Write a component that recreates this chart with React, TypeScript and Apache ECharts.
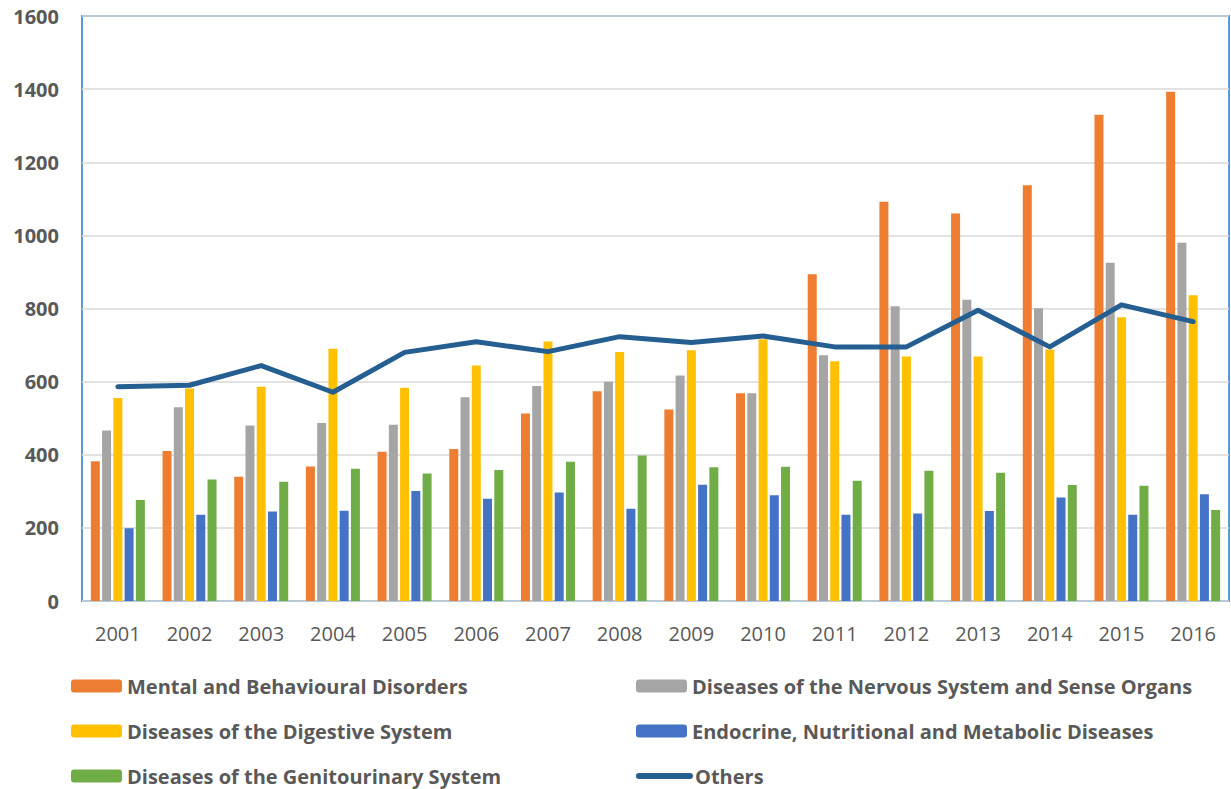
import React, { useEffect, useRef } from "react";
import * as echarts from "echarts";

const years = ["2001", "2002", "2003", "2004", "2005", "2006", "2007", "2008", "2009", "2010", "2011", "2012", "2013", "2014", "2015", "2016"];

const mental = [382, 410, 340, 368, 408, 416, 513, 574, 524, 568, 894, 1092, 1060, 1137, 1330, 1393];
const nervous = [466, 530, 480, 487, 482, 557, 588, 600, 617, 568, 672, 806, 824, 801, 925, 980];
const digestive = [555, 581, 586, 690, 583, 644, 710, 681, 686, 716, 656, 669, 669, 688, 776, 836];
const endocrine = [199, 236, 245, 247, 301, 280, 297, 252, 318, 289, 236, 239, 246, 283, 236, 292];
const genitourinary = [276, 332, 326, 362, 349, 358, 381, 398, 366, 367, 329, 356, 351, 317, 315, 249];
const others = [586, 590, 644, 571, 680, 709, 682, 723, 707, 725, 695, 695, 795, 695, 810, 764];

const NAMES = {
  mental: "Mental and Behavioural Disorders",
  nervous: "Diseases of the Nervous System and Sense Organs",
  digestive: "Diseases of the Digestive System",
  endocrine: "Endocrine, Nutritional and Metabolic Diseases",
  genito: "Diseases of the Genitourinary System",
  others: "Others",
};

const FONT = "'Open Sans', 'Liberation Sans', sans-serif";
const TEXT = "#595959";

export default function App() {
  const ref = useRef<HTMLDivElement>(null);

  useEffect(() => {
    if (!ref.current) return;
    const chart = echarts.init(ref.current, null, { renderer: "svg" });

    const barBase = {
      type: "bar" as const,
      barWidth: 9,
      barGap: "25%",
    };

    const legendText = {
      fontFamily: FONT,
      fontSize: 20,
      fontWeight: "bold" as const,
      color: TEXT,
      lineHeight: 20,
    };

    const legendAt = (name: string, left: number, centerY: number) => ({
      data: [name],
      left,
      top: centerY - 10,
      itemWidth: 51,
      itemHeight: 13,
      itemGap: 0,
      padding: 0,
      textStyle: legendText,
    });

    chart.setOption({
      animation: false,
      backgroundColor: "#ffffff",
      grid: {
        left: 82,
        right: 2,
        top: 16,
        bottom: 188,
        show: true,
        borderColor: "#5B9BD5",
        borderWidth: 2,
        backgroundColor: "transparent",
      },
      legend: [
        legendAt(NAMES.mental, 71, 686),
        legendAt(NAMES.digestive, 71, 731),
        legendAt(NAMES.genito, 71, 776),
        legendAt(NAMES.nervous, 636, 686),
        legendAt(NAMES.endocrine, 636, 731),
        {
          ...legendAt(NAMES.others, 636, 776),
          itemStyle: { opacity: 0 },
          lineStyle: { width: 6, cap: "round" },
        },
      ],
      xAxis: {
        type: "category",
        data: years,
        boundaryGap: true,
        axisLine: { show: false },
        axisTick: { show: false },
        axisLabel: {
          fontFamily: FONT,
          fontSize: 20,
          color: TEXT,
          margin: 22,
        },
      },
      yAxis: {
        type: "value",
        min: 0,
        max: 1600,
        interval: 200,
        axisLine: { show: false },
        axisTick: { show: false },
        splitLine: { lineStyle: { color: "#D9D9D9", width: 1.5 } },
        axisLabel: {
          fontFamily: FONT,
          fontSize: 20,
          fontWeight: "bold",
          color: TEXT,
          margin: 23,
          formatter: (v: number) => String(v),
        },
      },
      series: [
        { ...barBase, name: NAMES.mental, data: mental, itemStyle: { color: "#ED7D31" } },
        { ...barBase, name: NAMES.nervous, data: nervous, itemStyle: { color: "#A5A5A5" } },
        { ...barBase, name: NAMES.digestive, data: digestive, itemStyle: { color: "#FFC000" } },
        { ...barBase, name: NAMES.endocrine, data: endocrine, itemStyle: { color: "#4472C4" } },
        { ...barBase, name: NAMES.genito, data: genitourinary, itemStyle: { color: "#70AD47" } },
        {
          type: "line",
          name: NAMES.others,
          data: others,
          symbol: "none",
          z: 5,
          itemStyle: { color: "#255E91" },
          lineStyle: { color: "#255E91", width: 5, cap: "round", join: "round" },
        },
      ],
    });

    return () => chart.dispose();
  }, []);

  return (
    <div
      ref={ref}
      style={{ position: "absolute", left: 0, top: 0, width: 1231, height: 789 }}
    />
  );
}
